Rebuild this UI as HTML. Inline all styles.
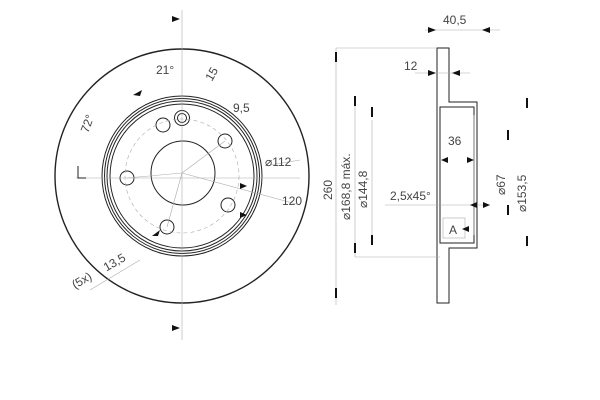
<!DOCTYPE html>
<html><head><style>body{margin:0;background:#fff}svg{display:block}text{font-family:"Liberation Sans",sans-serif;fill:#444}</style></head><body>
<svg width="600" height="400" viewBox="0 0 600 400">
<g fill="none" stroke="#222" stroke-width="1">
<circle cx="182" cy="176" r="127" stroke-width="1.4"/>
<circle cx="182" cy="176" r="80"/>
<circle cx="182" cy="176" r="77.5"/>
<circle cx="182" cy="176" r="75"/>
<circle cx="182" cy="176" r="72"/>
<circle cx="183" cy="173" r="32"/>
<circle cx="182" cy="118" r="7.5"/><circle cx="182" cy="118" r="4.5"/>
<circle cx="127" cy="178" r="7"/>
<circle cx="167" cy="227" r="7"/>
<circle cx="228" cy="205" r="7"/>
<circle cx="225" cy="141" r="7"/>
<circle cx="163" cy="125" r="7"/>
</g>
<g fill="none" stroke="#aaa" stroke-width="0.6">
<line x1="182" y1="10" x2="182" y2="340"/>
<circle cx="182" cy="176" r="57" stroke-dasharray="4 3"/>
<line x1="76" y1="178" x2="300" y2="178"/>
<line x1="127" y1="178" x2="182" y2="173"/><line x1="182" y1="173" x2="300" y2="205"/>
<line x1="167" y1="227" x2="182" y2="173"/><line x1="182" y1="173" x2="225" y2="141"/>
<line x1="270" y1="165" x2="300" y2="160"/>
<line x1="90" y1="290" x2="140" y2="260"/>
</g>
<g fill="#111">
<polygon points="172,16 180,19 172,22"/><polygon points="172,325 180,328 172,331"/>
<polygon points="133,95 142,90 140,96"/><polygon points="152,236 160,230 158,236"/>
<polygon points="240,183 247,186 240,189"/><polygon points="240,212 247,215 240,218"/>
</g>
<polyline points="78,166 78,178 86,178" fill="none" stroke="#222"/>
<text x="156" y="74" font-size="12">21°</text>
<text x="205" y="80" font-size="12" transform="rotate(-60 210 75)">15</text>
<text x="233" y="112" font-size="12">9,5</text>
<text x="265" y="166" font-size="12">⌀112</text>
<text x="282" y="205" font-size="12">120</text>
<text x="80" y="128" font-size="12" transform="rotate(-70 88 125)">72°</text>
<text x="100" y="268" font-size="12" transform="rotate(-30 110 258)">13,5</text>
<text x="70" y="285" font-size="12" transform="rotate(-30 80 278)">(5x)</text>
<g fill="none" stroke="#222" stroke-width="1">
<path d="M437,48 L449,48 L449,102 L477,102 L477,248 L449,248 L449,303 L437,303 Z"/>
<rect x="440" y="107" width="34" height="136"/>
<line x1="474" y1="115" x2="474" y2="235" stroke="#777"/>
</g>
<g fill="none" stroke="#aaa" stroke-width="0.6">
<line x1="336" y1="48" x2="437" y2="48"/>
<line x1="355" y1="257" x2="440" y2="257"/>
<line x1="336" y1="48" x2="336" y2="305"/>
<line x1="355" y1="100" x2="355" y2="257"/>
<line x1="372" y1="120" x2="372" y2="240"/>
<line x1="385" y1="205" x2="490" y2="205"/>
<line x1="425" y1="30" x2="500" y2="30"/>
<line x1="415" y1="73" x2="470" y2="73"/>
<rect x="443" y="218" width="22" height="20"/>
</g>
<g fill="#111">
<polygon points="428,27 436,30 428,33"/><polygon points="490,27 482,30 490,33"/>
<polygon points="428,70 436,73 428,76"/><polygon points="460,70 452,73 460,76"/>
<polygon points="448,157 441,160 448,163"/><polygon points="467,157 474,160 467,163"/>
<polygon points="462,229 469,226 469,232"/>
<rect x="335" y="52" width="2" height="10"/><rect x="335" y="288" width="2" height="10"/>
<rect x="354" y="96" width="2" height="10"/><rect x="354" y="243" width="2" height="10"/>
<rect x="371" y="107" width="2" height="10"/><rect x="371" y="235" width="2" height="10"/>
<rect x="507" y="130" width="2" height="10"/><rect x="507" y="205" width="2" height="10"/>
<rect x="526" y="98" width="2" height="10"/><rect x="526" y="236" width="2" height="10"/>
<polygon points="477,202 470,205 477,208"/><polygon points="483,202 490,205 483,208"/>
</g>
<text x="443" y="24" font-size="12">40,5</text>
<text x="404" y="70" font-size="12">12</text>
<text x="448" y="145" font-size="12">36</text>
<text x="390" y="200" font-size="12">2,5x45°</text>
<text x="449" y="234" font-size="12">A</text>
<text transform="translate(332,200) rotate(-90)" font-size="12">260</text>
<text transform="translate(350,220) rotate(-90)" font-size="12">⌀168,8 máx.</text>
<text transform="translate(367,208) rotate(-90)" font-size="12">⌀144,8</text>
<text transform="translate(505,195) rotate(-90)" font-size="12">⌀67</text>
<text transform="translate(526,212) rotate(-90)" font-size="12">⌀153,5</text>
</svg>
</body></html>
